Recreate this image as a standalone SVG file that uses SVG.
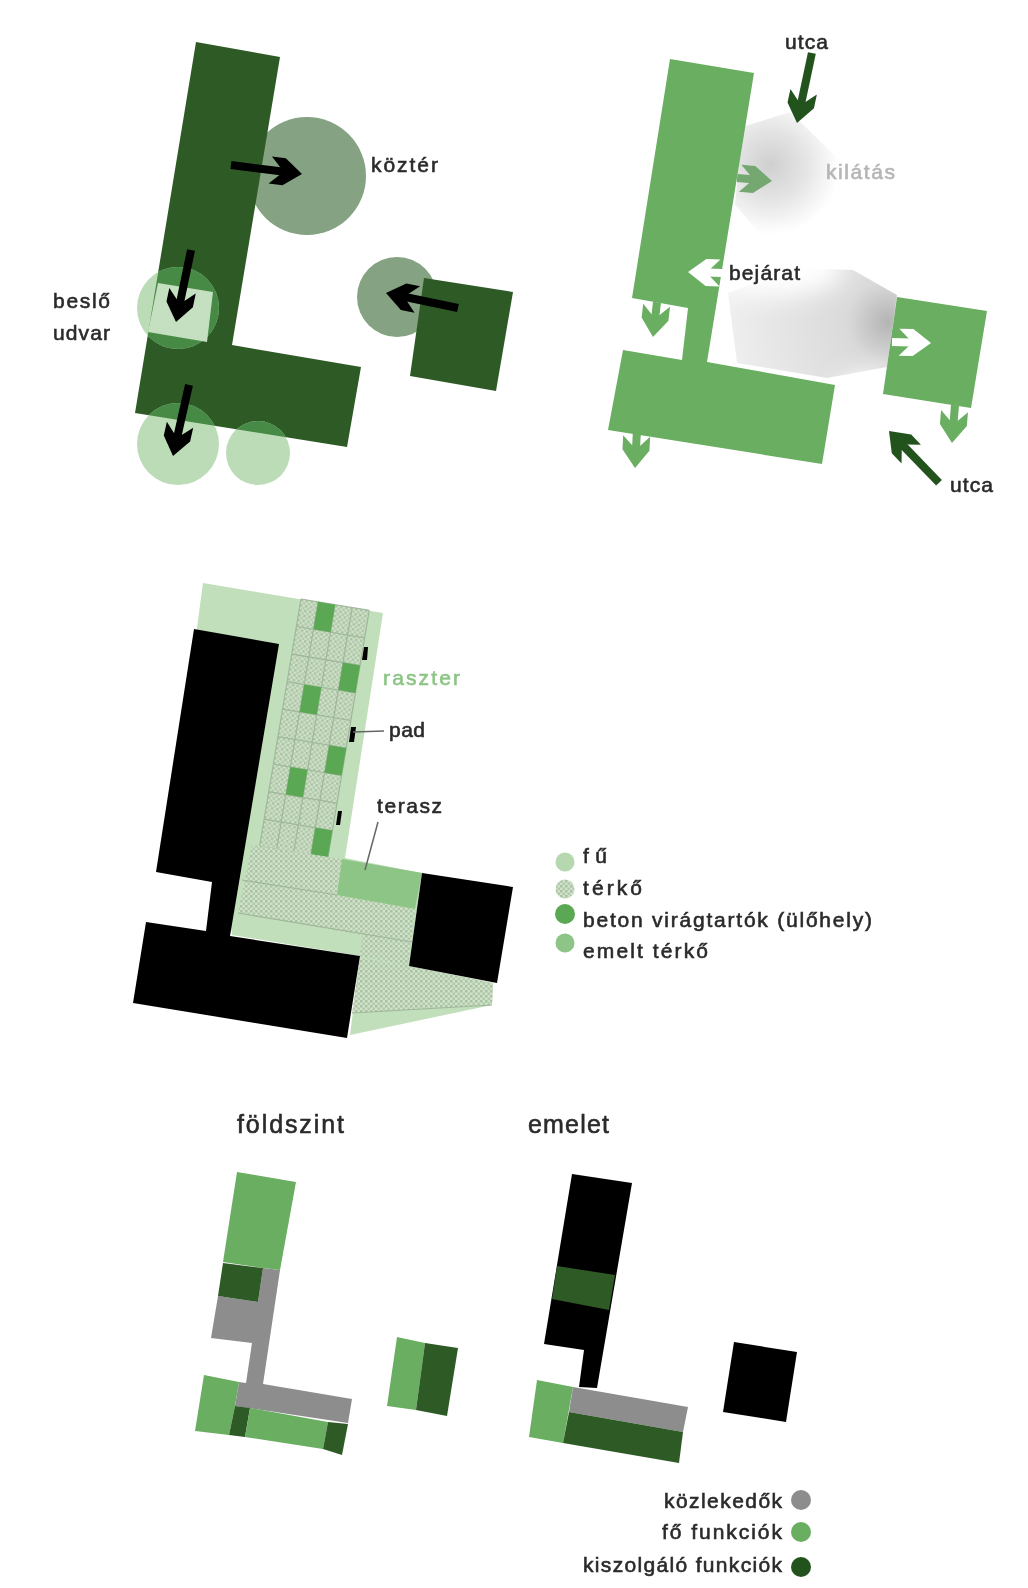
<svg xmlns="http://www.w3.org/2000/svg" xmlns:xlink="http://www.w3.org/1999/xlink" width="1028" height="1588" viewBox="0 0 1028 1588">
<style>
text{font-family:"Liberation Sans",Arial,sans-serif;font-size:21px;fill:#2a2a2a;stroke:#2a2a2a;stroke-width:.6px}
.title{font-size:25px}
.dk{fill:#2f5a27}.gn{fill:#6aae62}.gy{fill:#8d8d8d}.bk{fill:#000}.lt{fill:#c0dfba}.pv{fill:url(#pave)}.pot{fill:#5aa852}.ter{fill:#8cc585}
.pc{fill:#85a283}.lc{fill:#bcdcb8}.ov{fill:#468a45}
.a-bk{fill:#000}.a-dk{fill:#24521f}.a-md{fill:#74a870}.a-wh{fill:#fff}.a-gn{fill:#6aae62}
.gl{stroke:#9fb79a;stroke-width:1.2;fill:none}
.ld{stroke:#666;stroke-width:1.5;fill:none}
</style>
<defs>
<filter id="soft" x="-2%" y="-2%" width="104%" height="104%"><feGaussianBlur stdDeviation="0.65"/></filter>
<filter id="wide" x="-50%" y="-100%" width="200%" height="300%"><feGaussianBlur stdDeviation="12"/></filter>
<pattern id="pave" width="5" height="5" patternUnits="userSpaceOnUse"><rect width="5" height="5" fill="#d0e2ca"/><rect x="0" y="0" width="2.5" height="2.5" fill="#a9c2a2"/><rect x="2.5" y="2.5" width="2.5" height="2.5" fill="#b2c9ab"/></pattern>
<radialGradient id="g1" gradientUnits="userSpaceOnUse" cx="770" cy="165" r="70"><stop offset="0" stop-color="#cfcfcf"/><stop offset=".5" stop-color="#e4e4e4"/><stop offset="1" stop-color="#fff"/></radialGradient>
<radialGradient id="g2" gradientUnits="userSpaceOnUse" cx="888" cy="322" r="165"><stop offset="0" stop-color="#b4b4b4"/><stop offset=".25" stop-color="#dadada"/><stop offset=".75" stop-color="#e8e8e8"/><stop offset="1" stop-color="#f0f0f0"/></radialGradient>
<clipPath id="bld"><polygon points="196,42 280,57 232,345 361,367 347,447 135,413"/></clipPath>
<path id="h" d="M0 0L-18 -13.5L-32 -13.5L-22 -3.5L-22 3.5L-32 13.5L-18 13.5Z"/>
</defs>
<rect width="1028" height="1588" fill="#fff"/>
<g filter="url(#soft)">
<g id="panel-kozter">
<circle class="pc" cx="307" cy="176" r="59"/>
<circle class="pc" cx="397" cy="297" r="40"/>
<polygon class="dk" points="196,42 280,57 232,345 361,367 347,447 135,413"/>
<polygon class="dk" points="424,278 513,292 496,391 410,376"/>
<circle class="lc" cx="178" cy="308" r="41"/>
<circle class="lc" cx="178" cy="444" r="41"/>
<circle class="lc" cx="258" cy="453" r="32"/>
<g clip-path="url(#bld)">
<circle class="ov" cx="178" cy="308" r="41"/>
<circle class="ov" cx="178" cy="444" r="41"/>
<circle class="ov" cx="258" cy="453" r="32"/>
</g>
<polygon fill="#c5e0c0" points="158,283 213,292 207,342 148,332"/>
</g>
<g id="panel-kilatas">
<polygon fill="url(#g1)" points="742,127 790,112 850,170 800,255 770,245 735,205"/>
<polygon fill="url(#g2)" points="728,293 790,268 853,270 897,295 887,367 827,378 737,363"/>
<ellipse cx="775" cy="268" rx="70" ry="28" fill="#fff" filter="url(#wide)"/>
<ellipse cx="868" cy="388" rx="30" ry="14" fill="#fff" filter="url(#wide)"/>
<polygon class="gn" points="670,59 754,73 707,362 835,385 822,464 608,430 623,350 682,360 688,308 632,298"/>
<polygon class="gn" points="897,297 987,311 971,408 883,394"/>
</g>
<g id="panel-raszter">
<polygon class="lt" points="203,583 383,613 345,858 422,873 409,966 493,983 492,1005 350,1035 360,956 232,935 197,628"/>
<g transform="translate(301,599) rotate(9.5)">
<rect class="pv" width="69.2" height="251"/>
<path class="gl" d="M0 0H69.2M0 27.9H69.2M0 55.8H69.2M0 83.7H69.2M0 111.6H69.2M0 139.5H69.2M0 167.4H69.2M0 195.3H69.2M0 223.2H69.2M0 251H69.2M0 0V251M17.3 0V251M34.6 0V251M51.9 0V251M69.2 0V251"/>
<rect class="pot" x="17.3" y="0" width="17.3" height="27.9"/>
<rect class="pot" x="51.9" y="55.8" width="17.3" height="27.9"/>
<rect class="pot" x="17.3" y="83.7" width="17.3" height="27.9"/>
<rect class="pot" x="51.9" y="139.5" width="17.3" height="27.9"/>
<rect class="pot" x="17.3" y="167.4" width="17.3" height="27.9"/>
<rect class="pot" x="51.9" y="223.2" width="17.3" height="27.9"/>
</g>
<polygon class="pv" points="252,845 342,859 337,895 415,909 408,966 360,956 362,935 238,913"/>
<polygon class="ter" points="342,859 422,873 415,909 337,895"/>
<polygon class="pv" points="360,958 409,966 493,983 492,1005 352,1013"/>
<path class="gl" d="M242 880L337 895M238 913L412 942M352 1013L492 1005"/>
<polygon class="bk" points="194,629 279,644 230,936 360,956 347,1038 133,1003 146,922 206,931 212,882 156,872"/>
<polygon class="bk" points="422,873 513,887 497,983 409,966"/>
<polygon class="bk" points="364,647 368,647 367,660 362,660"/>
<polygon class="bk" points="351,727 356,727 354,742 349,742"/>
<polygon class="bk" points="338,811 342,811 340,825 336,825"/>
<path class="ld" d="M353 732L384 731M378 822L365 870"/>
</g>
<g id="panel-foldszint">
<polygon class="gy" points="263,1268 280,1270 263,1384 352,1399 348,1423 235,1406 239,1382 246,1383 252,1343 211,1338 218,1296 258,1302"/>
<polygon class="gn" points="237,1172 296,1182 280,1270 263,1268 223,1262"/>
<polygon class="dk" points="223,1263 263,1268 258,1302 218,1296"/>
<polygon class="gn" points="204,1375 239,1382 235,1406 229,1435 195,1431"/>
<polygon class="dk" points="235,1406 250,1408 245,1437 229,1435"/>
<polygon class="gn" points="250,1408 328,1422 323,1449 245,1437"/>
<polygon class="dk" points="328,1422 348,1424 342,1455 323,1449"/>
<polygon class="gn" points="397,1337 425,1343 416,1410 387,1406"/>
<polygon class="dk" points="425,1343 458,1348 447,1416 416,1410"/>
</g>
<g id="panel-emelet">
<polygon class="bk" points="572,1174 632,1183 597,1388 579,1387 584,1350 544,1344"/>
<polygon class="dk" points="557,1266 615,1275 609,1310 552,1299"/>
<polygon class="gn" points="537,1380 573,1387 563,1443 529,1437"/>
<polygon class="gy" points="573,1387 688,1407 683,1432 569,1412"/>
<polygon class="dk" points="569,1412 683,1432 679,1463 563,1443"/>
<polygon class="bk" points="734,1342 797,1352 786,1422 723,1412"/>
</g>
<g id="connectors">
<g class="a-bk">
<g transform="translate(302,174) rotate(7.2)"><use href="#h"/><rect x="-71.6" y="-4" width="52" height="8"/></g>
<g transform="translate(176,322) rotate(101.8)"><use href="#h"/><rect x="-73.5" y="-4" width="54" height="8"/></g>
<g transform="translate(173,456) rotate(102.7)"><use href="#h"/><rect x="-72.8" y="-4" width="53" height="8"/></g>
<g transform="translate(386,293) rotate(191.8)"><use href="#h"/><rect x="-73.5" y="-4" width="54" height="8"/></g>
</g>
<g class="a-dk">
<g transform="translate(797,123) rotate(102)"><use href="#h"/><rect x="-71.6" y="-4" width="52" height="8"/></g>
<g transform="translate(889,431) rotate(226)"><use href="#h"/><rect x="-72" y="-4" width="52" height="8"/></g>
</g>
<g class="a-md"><g transform="translate(772,181) rotate(5)"><use href="#h"/><rect x="-35" y="-4" width="15" height="8"/></g></g>
<g class="a-wh">
<g transform="translate(688,272) rotate(181.7)"><use href="#h"/><rect x="-34" y="-4" width="14" height="8"/></g>
<g transform="translate(931,343) rotate(1.5)"><use href="#h"/><rect x="-39" y="-4" width="19" height="8"/></g>
</g>
<g class="a-gn">
<g transform="translate(653,337) rotate(96.5)"><use href="#h"/><rect x="-35" y="-4" width="15" height="8"/></g>
<g transform="translate(635,468) rotate(93)"><use href="#h"/><rect x="-35" y="-4" width="15" height="8"/></g>
<g transform="translate(952,443) rotate(94.5)"><use href="#h"/><rect x="-38" y="-4" width="18" height="8"/></g>
</g>
</g>
<g id="legend-raszter">
<circle cx="565" cy="862" r="9.5" fill="#b5d8ae"/>
<circle cx="565" cy="889" r="9.5" class="pv"/>
<circle cx="565" cy="914" r="10" fill="#5aa852"/>
<circle cx="565" cy="943" r="9.5" fill="#8cc585"/>
</g>
<g id="legend-funkciok">
<circle cx="801" cy="1500" r="10" fill="#8d8d8d"/>
<circle cx="801" cy="1532" r="10" fill="#6aae62"/>
<circle cx="801" cy="1567" r="10" fill="#24521f"/>
</g>
<g id="labels">
<text x="371" y="172" textLength="67" lengthAdjust="spacing">köztér</text>
<text x="53" y="308" textLength="57" lengthAdjust="spacing">beslő</text>
<text x="53" y="340" textLength="57" lengthAdjust="spacing">udvar</text>
<text x="785" y="49" textLength="43" lengthAdjust="spacing">utca</text>
<text x="826" y="179" textLength="69" lengthAdjust="spacing" style="fill:#b5b5b5;stroke:#b5b5b5">kilátás</text>
<text x="729" y="280" textLength="71" lengthAdjust="spacing">bejárat</text>
<text x="950" y="492" textLength="43" lengthAdjust="spacing">utca</text>
<text x="383" y="685" textLength="77" lengthAdjust="spacing" style="fill:#8cc585;stroke:#8cc585">raszter</text>
<text x="389" y="737" textLength="36" lengthAdjust="spacing">pad</text>
<text x="377" y="813" textLength="65" lengthAdjust="spacing">terasz</text>
<text x="583" y="863" textLength="24" lengthAdjust="spacing">fű</text>
<text x="583" y="895" textLength="59" lengthAdjust="spacing">térkő</text>
<text x="583" y="927" textLength="289" lengthAdjust="spacing">beton virágtartók (ülőhely)</text>
<text x="583" y="958" textLength="125" lengthAdjust="spacing">emelt térkő</text>
<text class="title" x="237" y="1133" textLength="107" lengthAdjust="spacing">földszint</text>
<text class="title" x="528" y="1133" textLength="81" lengthAdjust="spacing">emelet</text>
<text x="664" y="1508" textLength="118" lengthAdjust="spacing">közlekedők</text>
<text x="662" y="1539" textLength="120" lengthAdjust="spacing">fő funkciók</text>
<text x="583" y="1572" textLength="199" lengthAdjust="spacing">kiszolgáló funkciók</text>
</g>
</g>
</svg>
